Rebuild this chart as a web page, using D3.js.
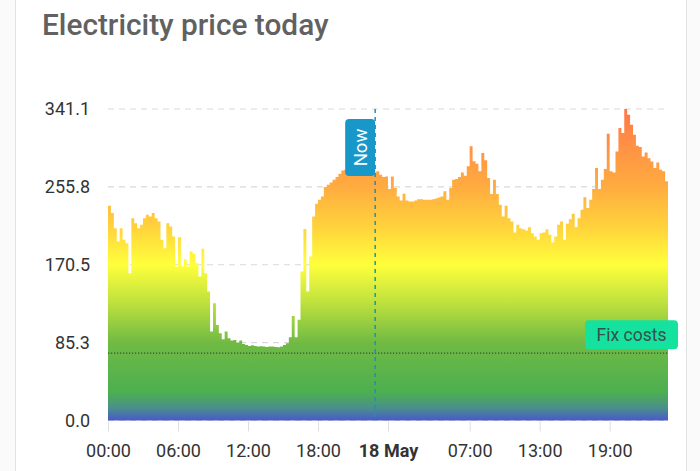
<!DOCTYPE html>
<html>
<head>
<meta charset="utf-8">
<script src="https://cdn.jsdelivr.net/npm/d3@7"></script>
<style>
    html, body { margin: 0; padding: 0; background: #fafafa; }
    #graph { width: 700px; height: 471px; }
    text { font-family: Roboto, "Noto Sans", sans-serif; }
</style>
</head>
<body>
<div id="graph"></div>
<script>
// prices per 15 minutes, day 1 (17 May) and day 2 (18 May)
const day1Prices = [
    235.1, 227.1, 210.6, 196.0, 210.6, 197.9, 194.2, 161.3, 221.6, 216.1,
    210.6, 214.3, 221.6, 225.3, 223.4, 227.1, 221.6, 217.9, 197.9, 188.7,
    216.1, 212.4, 201.5, 168.6, 200.8, 168.6, 176.7, 168.6, 185.1, 182.5,
    172.3, 157.7, 188.0, 161.3, 141.2, 97.4, 128.4, 104.7, 95.5, 89.0,
    97.4, 90.1, 87.5, 88.2, 85.3, 87.5, 83.8, 82.8, 81.7, 82.4,
    81.7, 80.9, 81.2, 80.9, 80.5, 80.9, 80.9, 80.5, 80.2, 80.9,
    82.8, 84.6, 91.2, 114.5, 91.2, 110.2, 163.1, 209.6, 141.2, 179.6,
    223.4, 237.3, 241.7, 245.4, 255.6, 258.1, 260.7, 263.6, 266.6, 270.2,
    273.8, 274.6, 275.3, 275.3, 275.3, 274.6, 274.6, 273.8, 273.8, 272.8,
    272.8, 271.6, 272.8, 269.1, 266.6, 267.3
];
const day2Prices = [
    253.4, 267.3, 254.6, 245.4, 241.0, 248.3, 241.0, 239.9, 239.9, 241.0,
    242.4, 242.4, 241.7, 241.7, 241.7, 242.4, 243.2, 244.3, 245.4, 250.9,
    241.7, 254.6, 263.6, 264.4, 266.6, 271.7, 268.0, 278.3, 300.2, 283.8,
    281.2, 272.8, 292.9, 284.9, 265.5, 248.0, 263.6, 248.0, 236.3, 223.4,
    235.2, 221.6, 217.9, 205.9, 214.3, 210.6, 209.5, 208.0, 211.7, 205.1,
    201.5, 197.8, 205.1, 205.9, 209.5, 203.3, 194.9, 201.5, 214.3, 217.9,
    197.8, 215.4, 220.5, 226.3, 211.7, 221.6, 230.8, 244.6, 232.6, 241.7,
    253.4, 276.4, 253.4, 263.6, 275.3, 314.0, 272.8, 271.6, 294.6, 320.2,
    314.7, 341.1, 334.9, 323.9, 312.9, 300.9, 299.4, 289.2, 293.6, 287.3,
    283.7, 276.4, 282.6, 274.6, 272.8, 261.9
];

const xTickHours = [0, 6, 12, 18, 24, 31, 37, 43];
const xTickLabels = ["00:00", "06:00", "12:00", "18:00", "18 May", "07:00", "13:00", "19:00"];
const yTickValues = [0, 85.275, 170.55, 255.825, 341.1];
const yTickLabels = ["0.0", "85.3", "170.5", "255.8", "341.1"];
const fixCosts = 73.7;
const nowHour = 22.9;
const stepHours = 0.25;

const width = 700, height = 471;
const plot = { left: 108, right: 668, top: 109, bottom: 420.5 };

const createGraph = () => {
    const prices = day1Prices.concat(day2Prices);
    const data = prices.map((p, i) => ({ hour: i * stepHours, price: p }));
    // repeat last value so the final step is closed
    data.push({ hour: prices.length * stepHours, price: prices[prices.length - 1] });

    const svg = d3.select("#graph")
        .append("svg")
        .attr("width", width)
        .attr("height", height);

    // card
    svg.append("rect")
        .attr("x", 15.5)
        .attr("y", -14)
        .attr("width", 671)
        .attr("height", 520)
        .attr("rx", 12)
        .attr("fill", "#ffffff")
        .attr("stroke", "#e3e3e3");

    svg.append("text")
        .attr("x", 42)
        .attr("y", 35)
        .attr("font-size", 29.8)
        .attr("font-weight", 500)
        .attr("fill", "#616161")
        .text("Electricity price today");

    const xScale = d3.scaleLinear()
        .domain([0, prices.length * stepHours])
        .range([plot.left, plot.right]);
    const yScale = d3.scaleLinear()
        .domain([0, 341.1])
        .range([plot.bottom, plot.top]);

    const defs = svg.append("defs");
    const grad = defs.append("linearGradient")
        .attr("id", "priceGradient")
        .attr("gradientUnits", "userSpaceOnUse")
        .attr("x1", 0).attr("x2", 0)
        .attr("y1", yScale(0)).attr("y2", yScale(341.1));
    const stops = [
        [0, "#4a58cc"], [0.04, "#4a8f8c"], [0.09, "#4caf50"], [0.25, "#70ba44"],
        [0.38, "#bfe23d"], [0.5, "#ffff3b"], [0.62, "#ffd33c"], [0.75, "#ffac40"],
        [0.88, "#ff9244"], [1, "#ff7646"]
    ];
    stops.forEach(s => {
        grad.append("stop").attr("offset", s[0]).attr("stop-color", s[1]);
    });

    // grid lines
    svg.append("g")
        .selectAll("line.grid")
        .data(yTickValues)
        .enter().append("line")
        .attr("class", "grid")
        .attr("x1", plot.left)
        .attr("x2", plot.right)
        .attr("y1", d => yScale(d))
        .attr("y2", d => yScale(d))
        .attr("stroke", "#d9d9d9")
        .attr("stroke-width", 1.2)
        .attr("stroke-dasharray", "6,5");

    const area = d3.area()
        .curve(d3.curveStepAfter)
        .x(d => xScale(d.hour))
        .y0(yScale(0))
        .y1(d => yScale(d.price));

    svg.append("path")
        .datum(data)
        .attr("d", area)
        .attr("fill", "url(#priceGradient)");

    // y axis labels
    const yAxis = d3.axisLeft(yScale)
        .tickValues(yTickValues)
        .tickFormat((d, i) => yTickLabels[i])
        .tickSize(0)
        .tickPadding(18);
    const yg = svg.append("g")
        .attr("transform", "translate(" + plot.left + ",0)")
        .call(yAxis);
    yg.select(".domain").remove();
    yg.selectAll("text")
        .attr("font-size", 18)
        .attr("fill", "#333333")
        .attr("font-family", "Roboto, sans-serif");

    // x axis
    const xAxis = d3.axisBottom(xScale)
        .tickValues(xTickHours)
        .tickFormat((d, i) => xTickLabels[i])
        .tickSizeInner(10)
        .tickSizeOuter(0)
        .tickPadding(13);
    const xg = svg.append("g")
        .attr("transform", "translate(0," + (plot.bottom + 1) + ")")
        .call(xAxis);
    xg.select(".domain").remove();
    xg.selectAll(".tick line").attr("stroke", "#dedede");
    xg.selectAll("text")
        .attr("font-size", 18)
        .attr("fill", "#333333")
        .attr("font-family", "Roboto, sans-serif")
        .attr("font-weight", (d, i) => xTickLabels[i] === "18 May" ? 700 : 400);

    // fix costs line
    svg.append("line")
        .attr("x1", plot.left)
        .attr("x2", plot.right)
        .attr("y1", yScale(fixCosts))
        .attr("y2", yScale(fixCosts))
        .attr("stroke", "#3c4a3c")
        .attr("stroke-width", 1.2)
        .attr("stroke-dasharray", "1.2,1.8");
    const fixLabel = svg.append("g")
        .attr("transform", "translate(" + (plot.right + 10) + "," + (yScale(fixCosts) - 4) + ")");
    fixLabel.append("rect")
        .attr("x", -93)
        .attr("y", -29)
        .attr("width", 93)
        .attr("height", 29)
        .attr("rx", 4)
        .attr("fill", "#16e2a0");
    fixLabel.append("text")
        .attr("x", -46.5)
        .attr("y", -8.5)
        .attr("text-anchor", "middle")
        .attr("font-size", 17.5)
        .attr("fill", "#37504a")
        .text("Fix costs");

    // now marker
    svg.append("line")
        .attr("x1", xScale(nowHour))
        .attr("x2", xScale(nowHour))
        .attr("y1", plot.top)
        .attr("y2", plot.bottom)
        .attr("stroke", "#1a93b8")
        .attr("stroke-width", 1.5)
        .attr("stroke-dasharray", "4,4");
    const nowLabel = svg.append("g")
        .attr("transform", "translate(" + xScale(nowHour) + ",119)");
    nowLabel.append("rect")
        .attr("x", -30)
        .attr("y", 0)
        .attr("width", 30)
        .attr("height", 57)
        .attr("rx", 4)
        .attr("fill", "#1897c9");
    nowLabel.append("text")
        .attr("transform", "translate(-8.5,28.5) rotate(-90)")
        .attr("text-anchor", "middle")
        .attr("font-size", 18.5)
        .attr("fill", "#ffffff")
        .text("Now");
};

createGraph();
</script>
</body>
</html>
